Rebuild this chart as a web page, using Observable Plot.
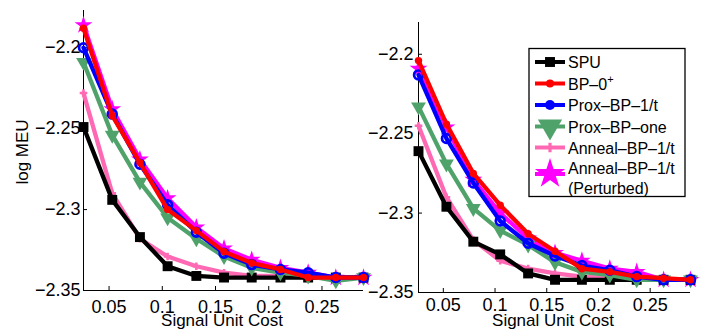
<!DOCTYPE html>
<html><head><meta charset="utf-8">
<script src="https://cdn.jsdelivr.net/npm/d3@7"></script>
<script src="https://cdn.jsdelivr.net/npm/@observablehq/plot@0.6"></script>
<style>
body{margin:0;background:#fff;}
#wrap{position:relative;width:709px;height:331px;font-family:"Liberation Sans",Arial,sans-serif;overflow:hidden;}
#wrap svg{position:absolute;left:0;top:0;overflow:visible;background:transparent;}
</style></head><body><div id="wrap"></div>
<script>
// signal unit cost (x)
const cost = [0.026, 0.053, 0.079, 0.105, 0.132, 0.158, 0.184, 0.211, 0.237, 0.263, 0.289];
const xTicks = [0.05, 0.1, 0.15, 0.2, 0.25];
const yTicks = [-2.35, -2.3, -2.25, -2.2];
const seriesNames = ["SPU", "BP-0+", "Prox-BP-1/t", "Prox-BP-one", "Anneal-BP-1/t", "Anneal-BP-1/t (Perturbed)"];

// left panel: log MEU
const leftSPU       = [-2.249, -2.294, -2.317, -2.335, -2.341, -2.342, -2.342, -2.342, -2.342, -2.342, -2.342];
const leftBP0       = [-2.188, -2.242, -2.271, -2.300, -2.313, -2.326, -2.333, -2.337, -2.342, -2.342, -2.342];
const leftProx1t    = [-2.200, -2.241, -2.272, -2.297, -2.314, -2.327, -2.334, -2.337, -2.339, -2.342, -2.342];
const leftProxOne   = [-2.209, -2.254, -2.283, -2.305, -2.318, -2.329, -2.336, -2.339, -2.341, -2.344, -2.342];
const leftAnneal    = [-2.228, -2.290, -2.318, -2.329, -2.335, -2.339, -2.341, -2.341, -2.342, -2.342, -2.342];
const leftPerturbed = [-2.186, -2.238, -2.269, -2.293, -2.311, -2.324, -2.331, -2.336, -2.339, -2.342, -2.342];

// right panel: log MEU
const rightSPU       = [-2.261, -2.296, -2.318, -2.326, -2.338, -2.342, -2.342, -2.342, -2.342, -2.342, -2.342];
const rightBP0       = [-2.204, -2.244, -2.275, -2.295, -2.313, -2.324, -2.335, -2.337, -2.340, -2.341, -2.342];
const rightProx1t    = [-2.213, -2.253, -2.281, -2.305, -2.319, -2.327, -2.333, -2.336, -2.340, -2.342, -2.342];
const rightProxOne   = [-2.233, -2.269, -2.297, -2.311, -2.320, -2.331, -2.337, -2.339, -2.342, -2.342, -2.342];
const rightAnneal    = [-2.245, -2.290, -2.317, -2.330, -2.335, -2.338, -2.340, -2.341, -2.342, -2.342, -2.342];
const rightPerturbed = [-2.209, -2.246, -2.279, -2.300, -2.316, -2.325, -2.330, -2.335, -2.337, -2.342, -2.342];

const leftVals  = [leftSPU, leftBP0, leftProx1t, leftProxOne, leftAnneal, leftPerturbed];
const rightVals = [rightSPU, rightBP0, rightProx1t, rightProxOne, rightAnneal, rightPerturbed];

// styles (not data)
const styles = [
  {color:"#000000", symbol:"square", r:5.6, fill:"#000000", sw:0, rot:0, lr:5.6},
  {color:"#ff0000", symbol:"circle", r:3.7, fill:"#ff0000", sw:0, rot:0, lr:4},
  {color:"#0000ff", symbol:"circle", r:4.4, fill:"none", sw:2.7, rot:0, lr:5},
  {color:"#4fa36a", symbol:"triangle", r:5.5, fill:"#4fa36a", sw:0, rot:180, lr:9},
  {color:"#ff69b4", symbol:"cross", r:3.2, fill:"#ff69b4", sw:0, rot:0, lr:4},
  {color:"#ff00ff", symbol:"star", r:5.6, fill:"#ff00ff", sw:0, rot:0, lr:9.5}
];
const drawOrder = [5, 4, 0, 3, 2, 1];
const fmt = d => String(d).replace("-", "\u2212");
const FONT = "Liberation Sans, Arial, sans-serif";

function panel(vals, m) {
  const marks = [];
  for (const s of drawOrder) {
    const st = styles[s];
    const d = cost.map((c, i) => ({x: c, y: vals[s][i]}));
    marks.push(Plot.line(d, {x: "x", y: "y", stroke: st.color, strokeWidth: 4.3, strokeLinejoin: "round"}));
    marks.push(Plot.dot(d, {x: "x", y: "y", symbol: st.symbol, r: st.r, fill: st.fill,
      stroke: st.sw ? st.color : "none", strokeWidth: st.sw, rotate: st.rot}));
  }
  return Plot.plot({
    width: 709, height: 331,
    marginLeft: m.l, marginRight: m.r, marginTop: m.t, marginBottom: m.b,
    style: {fontFamily: FONT, fontSize: "18px", background: "transparent", overflow: "visible"},
    x: {domain: [cost[0], cost[cost.length - 1]]},
    y: {domain: [-2.35, m.ymax]},
    marks: [
      Plot.ruleY([-2.35], {stroke: "#000", strokeWidth: 1}),
      Plot.ruleX([cost[0]], {stroke: "#000", strokeWidth: 1}),
      Plot.axisX({ticks: xTicks, tickSize: -4, tickPadding: m.xpad, tickFormat: fmt, fontSize: 18, label: null, stroke: "#000", color: "#000"}),
      Plot.axisY({ticks: yTicks, tickSize: -4, tickPadding: m.ypad, tickFormat: fmt, fontSize: 18, label: null, stroke: "#000", color: "#000"}),
      ...marks
    ]
  });
}

const wrap = document.getElementById("wrap");
wrap.appendChild(panel(leftVals, {l: 83, r: 709 - 363, t: 10, b: 331 - 290, ymax: -2.177, xpad: 14, ypad: 7}));
wrap.appendChild(panel(rightVals, {l: 418, r: 709 - 690, t: 22, b: 331 - 292, ymax: -2.18, xpad: 10, ypad: 9}));

// overlay: axis titles and legend
const ov = d3.select(wrap).append("svg").attr("width", 709).attr("height", 331);
ov.append("text").attr("x", 222).attr("y", 326).attr("text-anchor", "middle")
  .attr("font-family", FONT).attr("font-size", 17).text("Signal Unit Cost");
ov.append("text").attr("x", 553).attr("y", 326).attr("text-anchor", "middle")
  .attr("font-family", FONT).attr("font-size", 17).text("Signal Unit Cost");
ov.append("text").attr("transform", "translate(27.5,152) rotate(-90)").attr("text-anchor", "middle")
  .attr("font-family", FONT).attr("font-size", 17).text("log MEU");

ov.append("rect").attr("x", 529).attr("y", 48.5).attr("width", 156).attr("height", 148)
  .attr("fill", "#fff").attr("stroke", "#000").attr("stroke-width", 1.3);
const rowY = [62, 83.5, 105, 126.5, 147.5, 174];
const symMap = {square: d3.symbolSquare, circle: d3.symbolCircle, triangle: d3.symbolTriangle, cross: d3.symbolCross, star: d3.symbolStar};
seriesNames.forEach((name, i) => {
  const st = styles[i], y = rowY[i];
  ov.append("line").attr("x1", 535).attr("x2", 565).attr("y1", y).attr("y2", y)
    .attr("stroke", st.color).attr("stroke-width", 4);
  ov.append("path").attr("d", d3.symbol(symMap[st.symbol], Math.PI * st.lr * st.lr)())
    .attr("transform", `translate(550,${y}) rotate(${st.rot})`)
    .attr("fill", st.fill === "none" ? st.color : st.fill);
  const t = ov.append("text").attr("x", 568).attr("font-family", FONT)
    .attr("font-size", 16).attr("fill", "#000");
  if (i === 1) {
    t.attr("y", y + 6).append("tspan").text("BP\u20130");
    t.append("tspan").attr("dy", -7).attr("font-size", 11).text("+");
  } else if (i === 5) {
    t.attr("y", 167.5 + 6).text("Anneal\u2013BP\u20131/t");
    ov.append("text").attr("x", 568).attr("y", 187.5 + 6).attr("font-family", FONT)
      .attr("font-size", 16).attr("fill", "#000").text("(Perturbed)");
  } else {
    t.attr("y", y + 6).text(name.replace(/-/g, "\u2013"));
  }
});
</script></body></html>
